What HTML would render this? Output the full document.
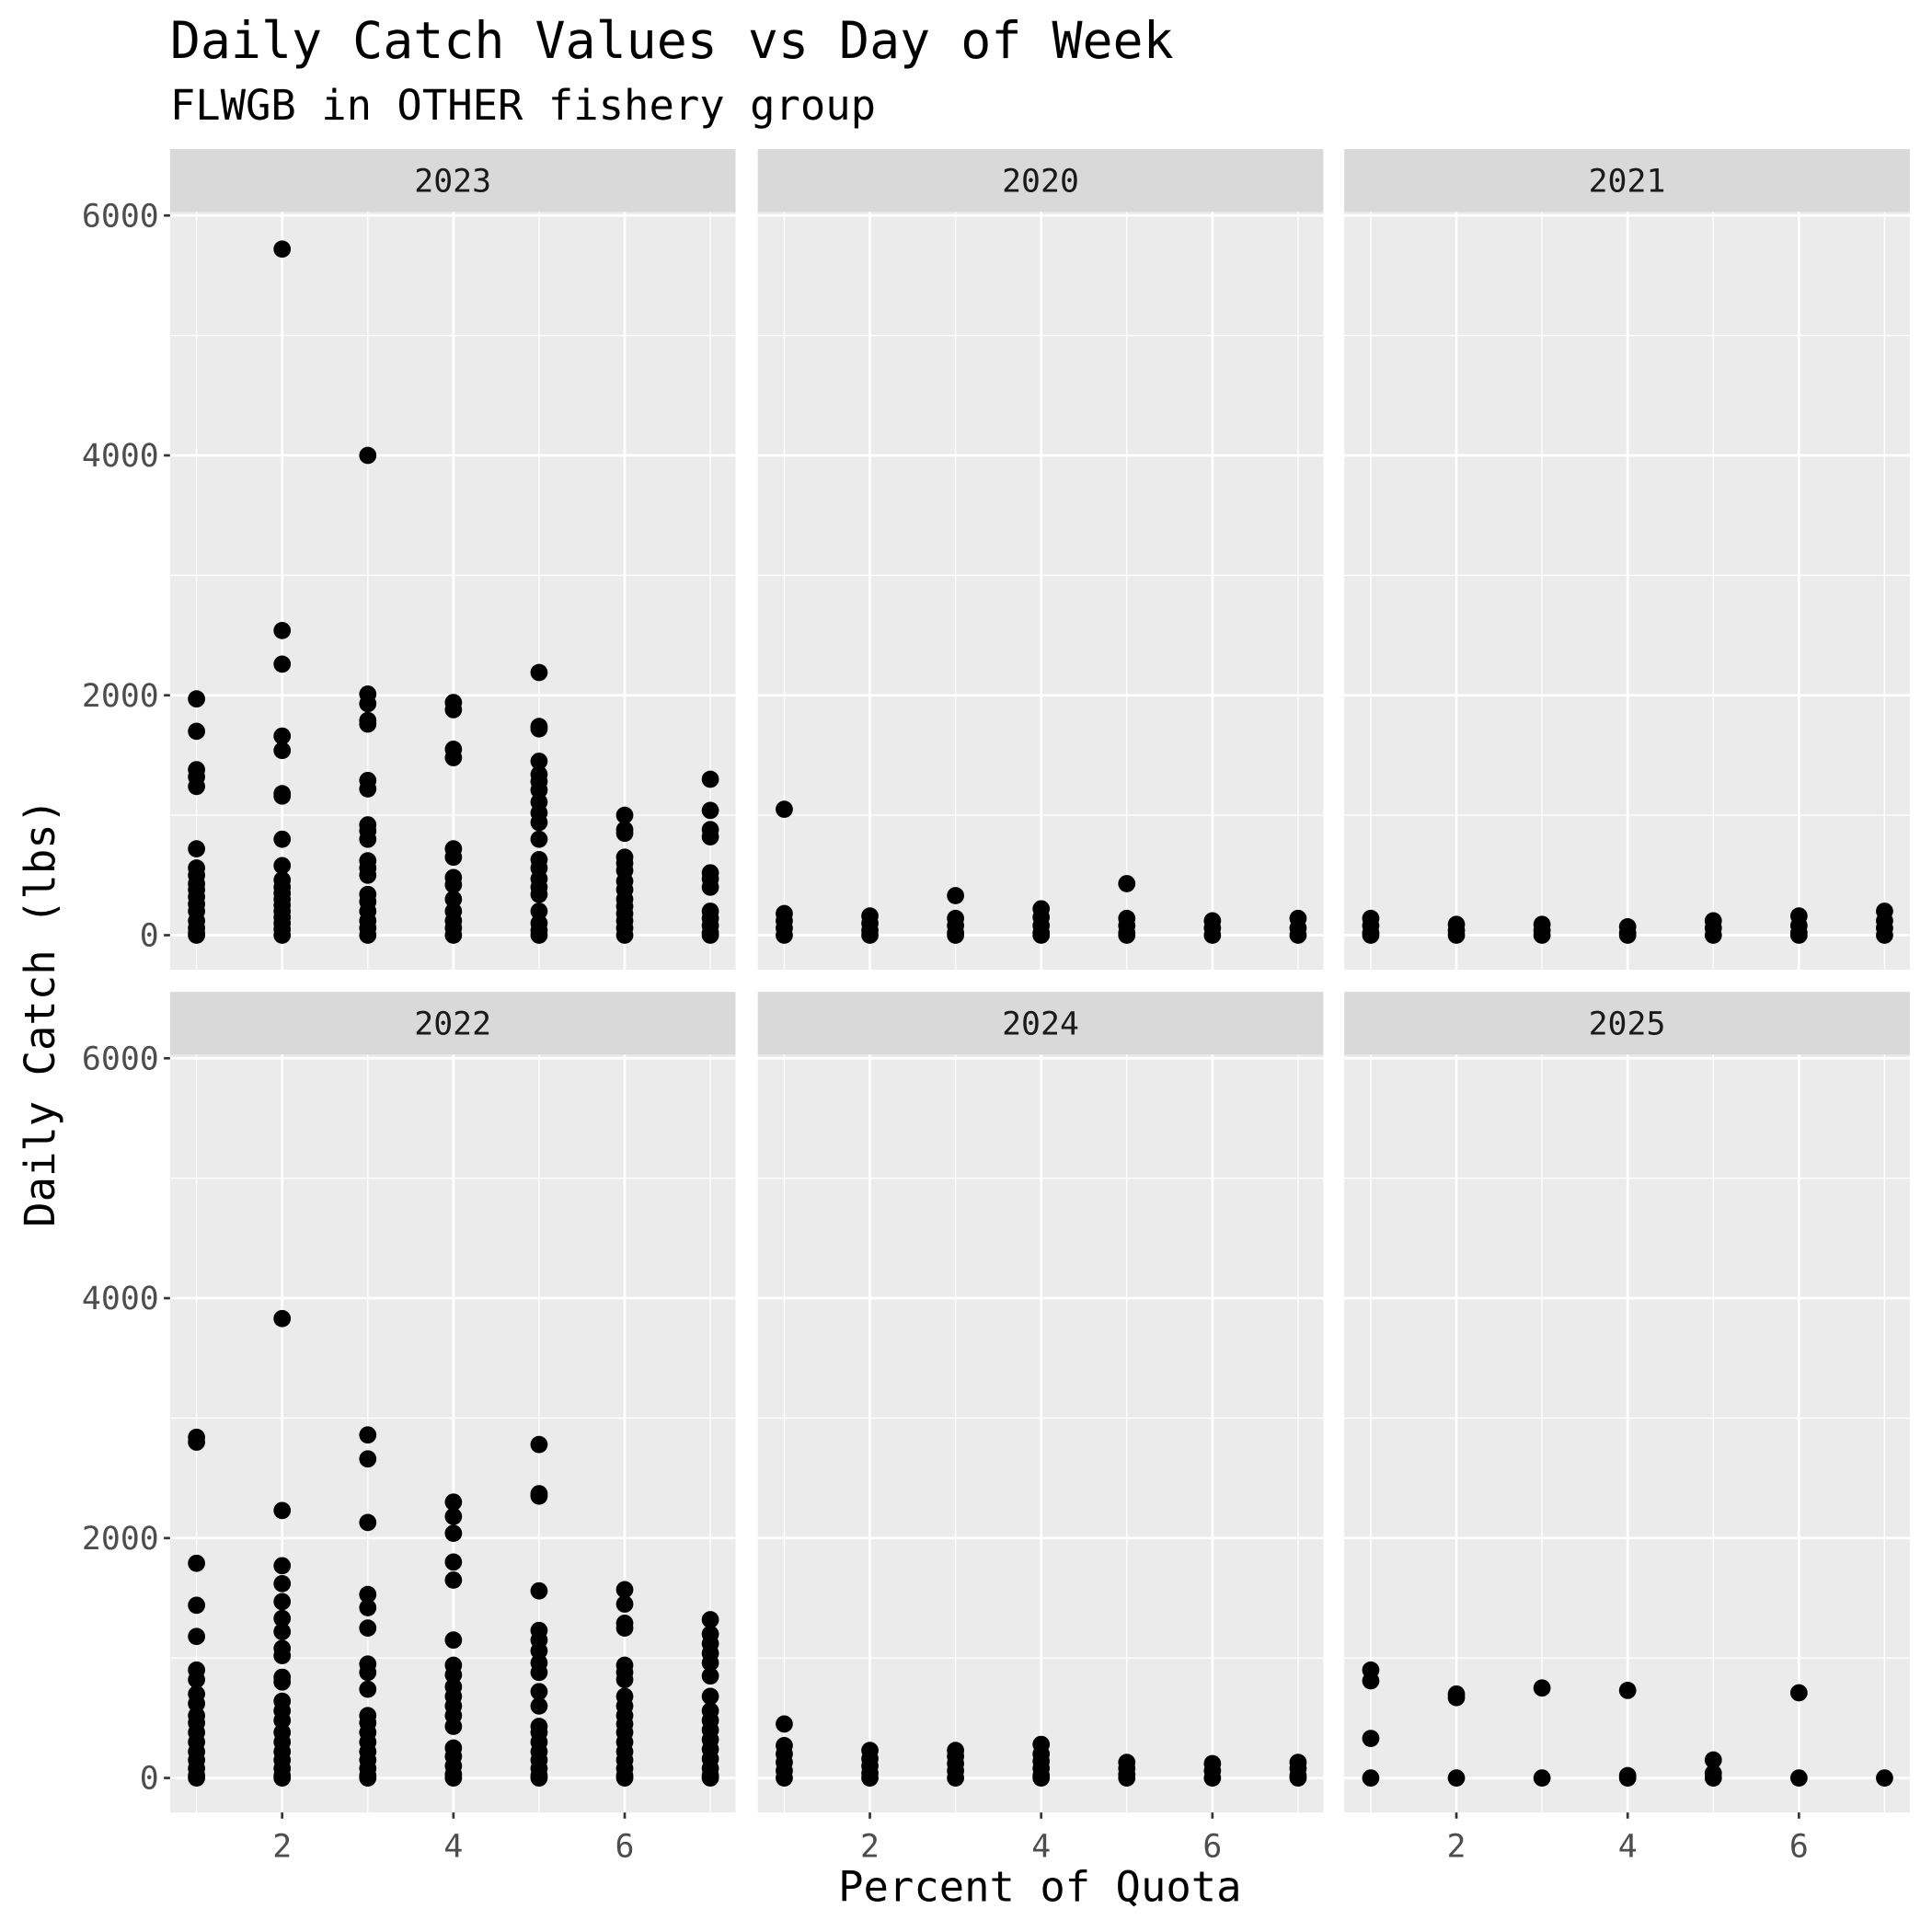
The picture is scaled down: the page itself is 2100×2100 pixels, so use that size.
<!DOCTYPE html>
<html><head><meta charset="utf-8"><style>
html,body{margin:0;padding:0;background:#fff}
svg{display:block}
text{font-family:"DejaVu Sans Mono","Liberation Mono",monospace}
</style></head><body>
<svg id="chart" width="2100" height="2100" viewBox="0 0 1568 1568" xmlns="http://www.w3.org/2000/svg">
<rect width="1568" height="1568" fill="#fff"/>
<text x="138" y="47" font-size="41" fill="#000">Daily Catch Values vs Day of Week</text>
<text x="138" y="97" font-size="34" fill="#000">FLWGB in OTHER fishery group</text>
<text x="844" y="1543" font-size="34" text-anchor="middle" fill="#000">Percent of Quota</text>
<text transform="translate(44,822) rotate(-90)" font-size="34" text-anchor="middle" fill="#000">Daily Catch (lbs)</text>
<g id="panels"></g>
</svg>
<script>
const years = ["2023","2020","2021","2022","2024","2025"];
const yTicks = [0,2000,4000,6000];
const yTickLabels = ["0","2000","4000","6000"];
const xTicks = [2,4,6];
const xTickLabels = ["2","4","6"];
const c2023 = [[1970,1700,1380,1320,1240,720,560,500,430,380,320,260,200,120,60,20,0],[5720,2540,2260,1660,1540,1180,1160,800,580,460,400,350,300,250,200,150,100,50,0],[4000,2010,1930,1790,1760,1290,1220,920,870,800,620,560,500,340,280,200,120,60,0],[1940,1880,1550,1480,720,650,480,420,300,200,120,60,0],[2190,1740,1720,1450,1340,1280,1210,1110,1020,940,800,630,560,470,400,340,200,100,40,0],[1000,880,850,650,600,540,450,380,300,240,180,120,60,0],[1300,1040,880,820,520,470,400,200,140,80,20,0]];
const c2020 = [[1050,180,120,60,0],[160,100,40,0],[330,140,80,20,0],[220,150,80,20,0],[430,140,80,20,0],[120,60,0],[140,60,0]];
const c2021 = [[140,80,20,0],[90,40,0],[90,40,0],[70,20,0],[120,60,0],[160,80,20,0],[200,120,60,0]];
const c2022 = [[2840,2800,1790,1440,1180,900,820,700,620,520,460,380,300,220,150,80,20,0],[3830,2230,1770,1620,1470,1330,1220,1080,1020,840,800,640,560,480,380,300,220,150,80,20,0],[2860,2660,2130,1530,1420,1250,950,880,740,520,460,380,300,220,150,80,20,0],[2300,2180,2040,1800,1650,1150,940,860,760,680,600,520,430,250,180,100,30,0],[2780,2370,2350,1560,1230,1150,1060,960,880,720,600,430,380,300,220,150,80,20,0],[1570,1450,1290,1250,940,880,820,680,600,520,450,380,300,220,150,80,20,0],[1320,1200,1120,1040,960,850,680,560,480,400,320,240,160,80,20,0]];
const c2024 = [[450,270,200,130,60,0],[230,160,100,40,0],[230,180,120,60,0],[280,200,140,80,20,0],[130,80,30,0],[120,60,0],[130,80,20,0]];
const c2025 = [[900,810,330,0],[700,670,0],[750,0],[730,20,0],[150,40,0],[710,0],[0]];
const panelData = [c2023,c2020,c2021,c2022,c2024,c2025];

const NS="http://www.w3.org/2000/svg";
const g=document.getElementById('panels');
const colX=[138,615,1091], pw=459;
const rowY=[172,856], ph=615, stripH=51;
function mk(tag,attrs,parent){const e=document.createElementNS(NS,tag);for(const k in attrs)e.setAttribute(k,attrs[k]);parent.appendChild(e);return e;}
function xScale(col,v){return colX[col]+21.5+(v-1)*69.5;}
function yScale(row,v){return rowY[row]+587-v*0.09735;}
panelData.forEach((data,i)=>{
  const col=i%3,row=Math.floor(i/3);
  const x0=colX[col],y0=rowY[row];
  const p=mk('g',{},g);
  
  
  const bg=mk('rect',{x:x0,y:y0,width:pw,height:ph,fill:'#ebebeb'},p);
  
  
  const st=mk('rect',{x:x0,y:y0-stripH,width:pw,height:stripH,fill:'#d9d9d9'},p);
  
  
  const stt=mk('text',{x:x0+pw/2,y:y0-stripH/2+9,'font-size':'26','text-anchor':'middle',fill:'#1a1a1a'},p);
  stt.textContent=years[i];
  
  
  [1000,3000,5000].forEach(v=>{const l=mk('line',{x1:x0,x2:x0+pw,y1:yScale(row,v),y2:yScale(row,v),stroke:'#fff','stroke-width':1},p);
    });
  [1,3,5,7].forEach(v=>{const l=mk('line',{x1:xScale(col,v),x2:xScale(col,v),y1:y0,y2:y0+ph,stroke:'#fff','stroke-width':1},p);
    });
  yTicks.forEach((v,k)=>{const y=yScale(row,v);
    const l=mk('line',{x1:x0,x2:x0+pw,y1:y,y2:y,stroke:'#fff','stroke-width':2},p);
    
    if(col===0){
      const t=mk('line',{x1:x0-5,x2:x0,y1:y,y2:y,stroke:'#333','stroke-width':2},p);
      
      const tx=mk('text',{x:x0-9,y:y+9,'font-size':'26','text-anchor':'end',fill:'#4d4d4d'},p);
      tx.textContent=yTickLabels[k];
      
    }});
  xTicks.forEach((v,k)=>{const x=xScale(col,v);
    const l=mk('line',{x1:x,x2:x,y1:y0,y2:y0+ph,stroke:'#fff','stroke-width':2},p);
    
    if(row===1){
      const t=mk('line',{x1:x,x2:x,y1:y0+ph,y2:y0+ph+5,stroke:'#333','stroke-width':2},p);
      
      const tx=mk('text',{x:x,y:y0+ph+36,'font-size':'26','text-anchor':'middle',fill:'#4d4d4d'},p);
      tx.textContent=xTickLabels[k];
      
    }});
  data.forEach((vals,d)=>{vals.forEach(v=>{
    const c=mk('circle',{cx:xScale(col,d+1),cy:yScale(row,v),r:7,fill:'#000'},p);
    
    
  });});
});
</script>
</body></html>
